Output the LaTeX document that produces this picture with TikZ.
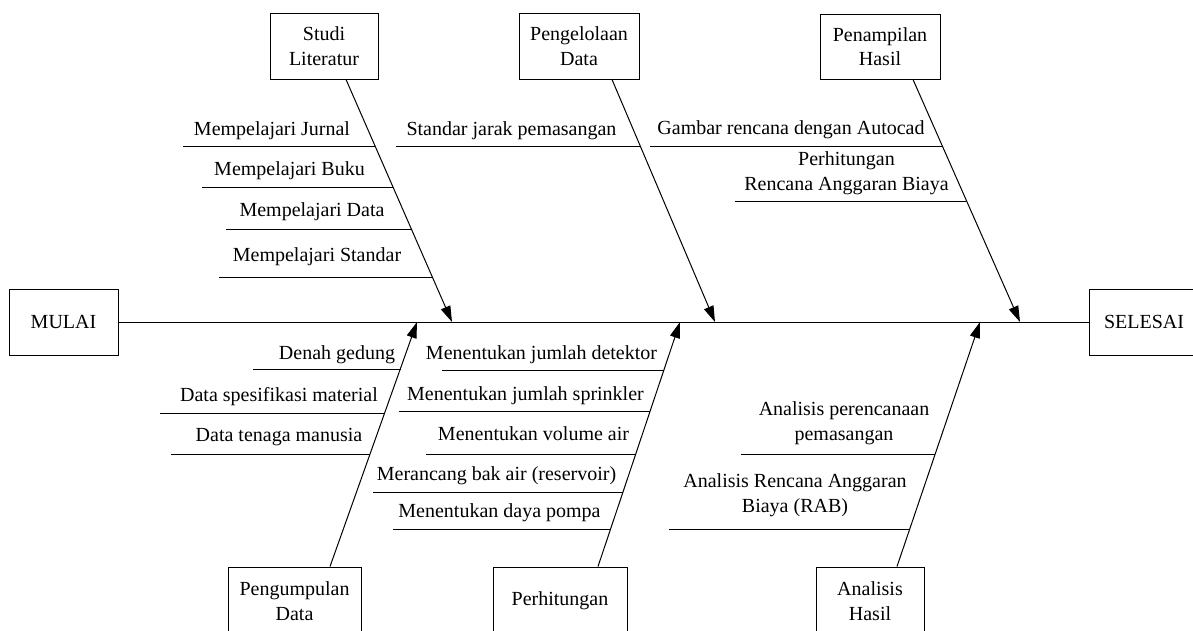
\documentclass[tikz,border=0pt]{standalone}
\usepackage{fontspec}
\setmainfont{Liberation Serif}
\usetikzlibrary{arrows.meta}
\begin{document}
\begin{tikzpicture}[x=1pt,y=-1pt,
  every node/.style={font=\fontsize{20}{24.5}\selectfont},
  box/.style={draw, line width=1pt, inner sep=0pt, align=center},
  bone/.style={line width=1pt, -{Triangle[length=16pt,width=10pt]}},
  rib/.style={line width=1pt},
  lbl/.style={anchor=base, inner sep=0pt},
  mlbl/.style={anchor=center, inner sep=0pt, align=center}]
\useasboundingbox (0,0) rectangle (1193,630);

% main boxes
\node[box, minimum width=109, minimum height=66] (mulai) at (63.5,322) {MULAI};
\node[box, minimum width=110, minimum height=66] (selesai) at (1144,322) {SELESAI};

% category boxes
\node[box, minimum width=108, minimum height=66] (lit) at (324,46) {Studi\\Literatur};
\node[box, minimum width=120, minimum height=66] (peng) at (579,46) {Pengelolaan\\Data};
\node[box, minimum width=120, minimum height=65] (pen) at (880,46.5) {Penampilan\\Hasil};
\node[box, minimum width=133, minimum height=68] (kum) at (294.5,601) {Pengumpulan\\Data};
\node[box, minimum width=134, minimum height=68] (hit) at (560,601) {Perhitungan};
\node[box, minimum width=108, minimum height=68] (ana) at (870,601) {Analisis\\Hasil};

% arrow tips on the spine
\coordinate (litT) at (452,322);
\coordinate (pengT) at (715,322);
\coordinate (penT) at (1020,322);
\coordinate (kumT) at (417,322);
\coordinate (hitT) at (680,322);
\coordinate (anaT) at (980,322);

% spine
\draw[rib] (mulai.east) -- (selesai.west);

% bones
\draw[bone] ([xshift=22]lit.south) -- (litT);
\draw[bone] ([xshift=33]peng.south) -- (pengT);
\draw[bone] ([xshift=33]pen.south) -- (penT);
\draw[bone] ([xshift=35.5]kum.north) -- (kumT);
\draw[bone] ([xshift=38]hit.north) -- (hitT);
\draw[bone] ([xshift=27]ana.north) -- (anaT);

% Studi Literatur ribs
\node[lbl] (l1) at (272,135) {Mempelajari Jurnal};
\draw[rib] (183,146) -- (375,146);
\node[lbl] (l2) at (289.5,175) {Mempelajari Buku};
\draw[rib] (202,187) -- (393,187);
\node[lbl] (l3) at (312,216) {Mempelajari Data};
\draw[rib] (226,229) -- (411,229);
\node[lbl] (l4) at (317,261) {Mempelajari Standar};
\draw[rib] (219,277) -- (432,277);

% Pengelolaan Data rib
\node[lbl] (p1) at (511.5,135) {Standar jarak pemasangan};
\draw[rib] (396,146) -- (640,146);

% Penampilan Hasil ribs
\node[lbl] (h1) at (791,134) {Gambar rencana dengan Autocad};
\draw[rib] (650,146) -- (942,146);
\node[mlbl] (h2) at (846.5,173.3) {Perhitungan\\Rencana Anggaran Biaya};
\draw[rib] (735,201) -- (966,201);

% Pengumpulan Data ribs
\node[lbl] (k1) at (337,359) {Denah gedung};
\draw[rib] (253,369) -- (401,369);
\node[lbl] (k2) at (279,401) {Data spesifikasi material};
\draw[rib] (160,413) -- (385,413);
\node[lbl] (k3) at (279,441) {Data tenaga manusia};
\draw[rib] (171,454) -- (370,454);

% Perhitungan ribs
\node[lbl] (c1) at (541.5,359) {Menentukan jumlah detektor};
\draw[rib] (442,370) -- (664,370);
\node[lbl] (c2) at (525.5,400) {Menentukan jumlah sprinkler};
\draw[rib] (399,411) -- (650,411);
\node[lbl] (c3) at (533.5,440) {Menentukan volume air};
\draw[rib] (426,454) -- (636,454);
\node[lbl] (c4) at (496.5,480) {Merancang bak air (reservoir)};
\draw[rib] (373,492) -- (623,492);
\node[lbl] (c5) at (499.5,517) {Menentukan daya pompa};
\draw[rib] (393,529) -- (611,529);

% Analisis Hasil ribs
\node[mlbl] (a1) at (844,423.3) {Analisis perencanaan\\pemasangan};
\draw[rib] (741,454) -- (935,454);
\node[mlbl] (a2) at (795,495.3) {Analisis Rencana Anggaran\\Biaya (RAB)};
\draw[rib] (669,529) -- (910,529);
\end{tikzpicture}
\end{document}
